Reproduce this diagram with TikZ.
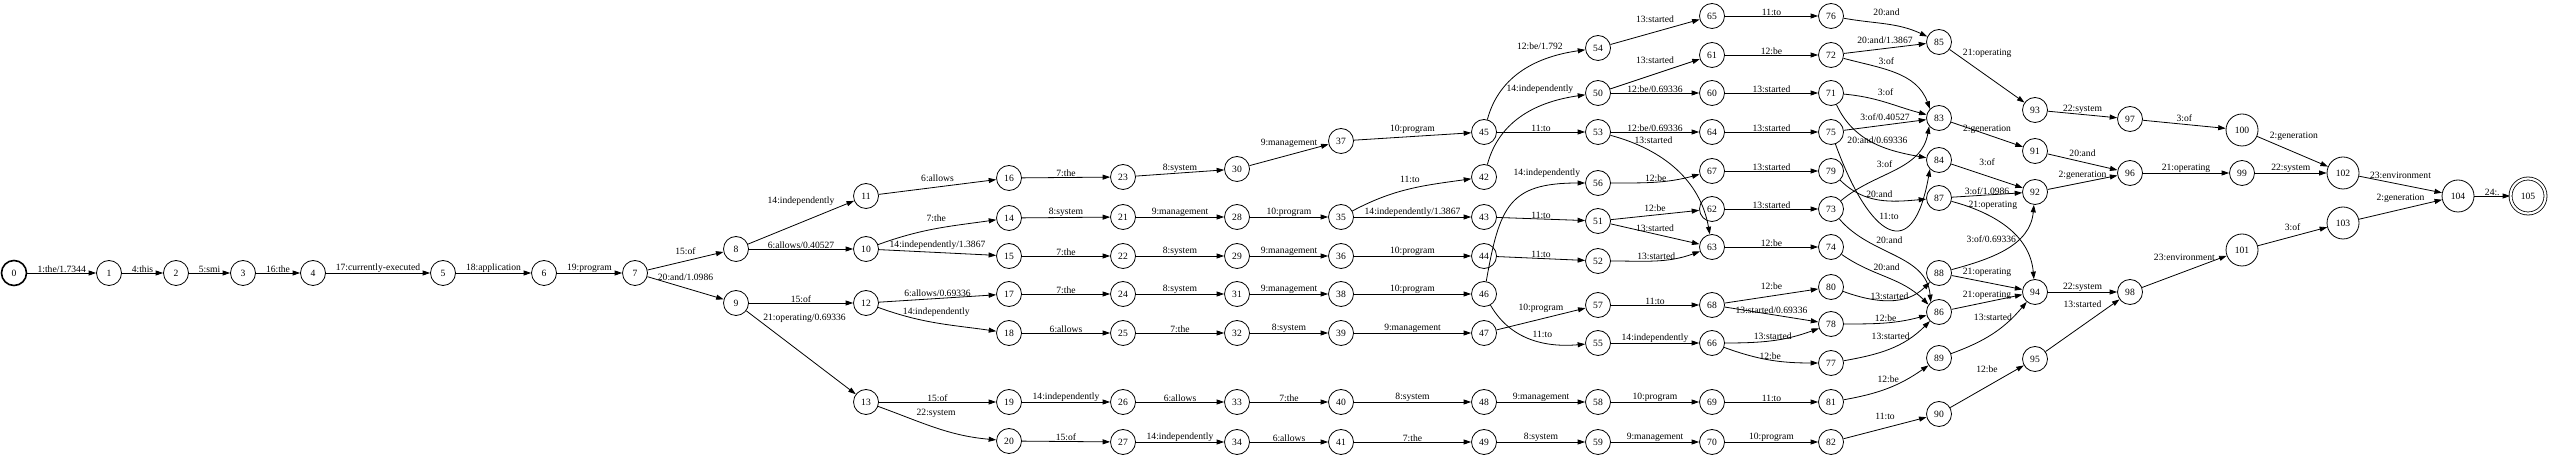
\documentclass[tikz,border=0pt]{standalone}
\usepackage{fontspec}
\setmainfont{Liberation Serif}
\usetikzlibrary{arrows.meta}

\begin{document}
\begin{tikzpicture}[x=1pt, y=1pt, line width=0.8pt, >={Triangle[length=7.5pt,width=5pt]},
        font=\fontsize{9.6}{11}\selectfont,
        state/.style={circle, draw, minimum size=25pt, inner sep=0pt},
        bigstate/.style={state, minimum size=32pt},
        initstate/.style={state, line width=1.6pt},
        finalstate/.style={state, minimum size=35pt, double, double distance=2.2pt}]
        \useasboundingbox (0,0) rectangle (2550,457);

        \node (q0) at (14,184) [initstate] {0};
        \node (q1) at (109,184) [state] {1};
        \node (q2) at (176,184) [state] {2};
        \node (q3) at (243,184) [state] {3};
        \node (q4) at (313,184) [state] {4};
        \node (q5) at (443,184) [state] {5};
        \node (q6) at (544,184) [state] {6};
        \node (q7) at (635,184) [state] {7};

        \node (q8) at (736,208) [state] {8};
        \node (q9) at (736,154) [state] {9};

        \node (q11) at (866,261) [state] {11};
        \node (q10) at (866,208) [state] {10};
        \node (q12) at (866,154) [state] {12};
        \node (q13) at (866,55) [state] {13};

        \node (q16) at (1009,279) [state] {16};
        \node (q14) at (1009,239) [state] {14};
        \node (q15) at (1009,201) [state] {15};
        \node (q17) at (1009,163) [state] {17};
        \node (q18) at (1009,124) [state] {18};
        \node (q19) at (1009,55) [state] {19};
        \node (q20) at (1009,16) [state] {20};

        \node (q23) at (1123,280) [state] {23};
        \node (q21) at (1123,240) [state] {21};
        \node (q22) at (1123,201) [state] {22};
        \node (q24) at (1123,163) [state] {24};
        \node (q25) at (1123,124) [state] {25};
        \node (q26) at (1123,55) [state] {26};
        \node (q27) at (1123,15) [state] {27};

        \node (q30) at (1237,288) [state] {30};
        \node (q28) at (1237,240) [state] {28};
        \node (q29) at (1237,201) [state] {29};
        \node (q31) at (1237,163) [state] {31};
        \node (q32) at (1237,124) [state] {32};
        \node (q33) at (1237,55) [state] {33};
        \node (q34) at (1237,15) [state] {34};

        \node (q37) at (1341,316) [state] {37};
        \node (q35) at (1341,240) [state] {35};
        \node (q36) at (1341,201) [state] {36};
        \node (q38) at (1341,163) [state] {38};
        \node (q39) at (1341,124) [state] {39};
        \node (q40) at (1341,55) [state] {40};
        \node (q41) at (1341,15) [state] {41};

        \node (q45) at (1484,325) [state] {45};
        \node (q42) at (1484,280) [state] {42};
        \node (q43) at (1484,240) [state] {43};
        \node (q44) at (1484,201) [state] {44};
        \node (q46) at (1484,163) [state] {46};
        \node (q47) at (1484,124) [state] {47};
        \node (q48) at (1484,55) [state] {48};
        \node (q49) at (1484,15) [state] {49};

        \node (q54) at (1598,409) [state] {54};
        \node (q50) at (1598,364) [state] {50};
        \node (q53) at (1598,325) [state] {53};
        \node (q56) at (1598,274) [state] {56};
        \node (q51) at (1598,236) [state] {51};
        \node (q52) at (1598,196) [state] {52};
        \node (q57) at (1598,152) [state] {57};
        \node (q55) at (1598,114) [state] {55};
        \node (q58) at (1598,55) [state] {58};
        \node (q59) at (1598,15) [state] {59};

        \node (q65) at (1712,441) [state] {65};
        \node (q61) at (1712,402) [state] {61};
        \node (q60) at (1712,364) [state] {60};
        \node (q64) at (1712,325) [state] {64};
        \node (q67) at (1712,286) [state] {67};
        \node (q62) at (1712,248) [state] {62};
        \node (q63) at (1712,210) [state] {63};
        \node (q68) at (1712,152) [state] {68};
        \node (q66) at (1712,114) [state] {66};
        \node (q69) at (1712,55) [state] {69};
        \node (q70) at (1712,15) [state] {70};

        \node (q76) at (1831,441) [state] {76};
        \node (q72) at (1831,402) [state] {72};
        \node (q71) at (1831,364) [state] {71};
        \node (q75) at (1831,325) [state] {75};
        \node (q79) at (1831,286) [state] {79};
        \node (q73) at (1831,248) [state] {73};
        \node (q74) at (1831,210) [state] {74};
        \node (q80) at (1831,170) [state] {80};
        \node (q78) at (1831,133) [state] {78};
        \node (q77) at (1831,94) [state] {77};
        \node (q81) at (1831,55) [state] {81};
        \node (q82) at (1831,15) [state] {82};

        \node (q85) at (1939,415) [state] {85};
        \node (q83) at (1939,339) [state] {83};
        \node (q84) at (1939,297) [state] {84};
        \node (q87) at (1939,259) [state] {87};
        \node (q88) at (1939,184) [state] {88};
        \node (q86) at (1939,145) [state] {86};
        \node (q89) at (1939,99) [state] {89};
        \node (q90) at (1939,43) [state] {90};

        \node (q93) at (2035,347) [state] {93};
        \node (q91) at (2035,306) [state] {91};
        \node (q92) at (2035,265) [state] {92};
        \node (q94) at (2035,165) [state] {94};
        \node (q95) at (2035,98) [state] {95};

        \node (q97) at (2130,338) [state] {97};
        \node (q96) at (2130,284) [state] {96};
        \node (q98) at (2130,165) [state] {98};

        \node (q100) at (2242,327) [bigstate] {100};
        \node (q99) at (2242,284) [state] {99};
        \node (q101) at (2242,207) [bigstate] {101};

        \node (q102) at (2343,284) [bigstate] {102};
        \node (q103) at (2343,234) [bigstate] {103};

        \node (q104) at (2458,261) [bigstate] {104};
        \node (q105) at (2528,261) [finalstate] {105};

        \path[->, every node/.style={inner sep=0.3pt}]
            (q0) edge node [above] {1:the/1.7344} (q1)
            (q1) edge node [above] {4:this} (q2)
            (q2) edge node [above] {5:smi} (q3)
            (q3) edge node [above] {16:the} (q4)
            (q4) edge node [above] {17:currently-executed} (q5)
            (q5) edge node [above] {18:application} (q6)
            (q6) edge node [above] {19:program} (q7)

            (q7) edge node [above=6pt] {15:of} (q8)
            (q7) edge node [above=7pt] {20:and/1.0986} (q9)
            (q8) edge node [above=16pt] {14:independently} (q11)
            (q8) edge node [above] {6:allows/0.40527} (q10)
            (q9) edge node [above] {15:of} (q12)
            (q9) edge node [pos=0.15, anchor=south west] {21:operating/0.69336} (q13)

            (q10) edge [out=20, in=188] node [above=6pt] {7:the} (q14)
            (q10) edge node [above=2pt] {14:independently/1.3867} (q15)
            (q11) edge node [above=5pt] {6:allows} (q16)
            (q12) edge node [above=1pt] {6:allows/0.69336} (q17)
            (q12) edge [out=-20, in=172] node [above=6pt] {14:independently} (q18)
            (q13) edge node [above] {15:of} (q19)
            (q13) edge [out=-20, in=175] node [above=9pt] {22:system} (q20)

            (q16) edge node [above] {7:the} (q23)
            (q14) edge node [above] {8:system} (q21)
            (q15) edge node [above] {7:the} (q22)
            (q17) edge node [above] {7:the} (q24)
            (q18) edge node [above] {6:allows} (q25)
            (q19) edge node [above] {14:independently} (q26)
            (q20) edge node [above] {15:of} (q27)

            (q23) edge node [above] {8:system} (q30)
            (q21) edge node [above] {9:management} (q28)
            (q22) edge node [above] {8:system} (q29)
            (q24) edge node [above] {8:system} (q31)
            (q25) edge node [above] {7:the} (q32)
            (q26) edge node [above] {6:allows} (q33)
            (q27) edge node [above] {14:independently} (q34)

            (q30) edge node [above=7pt] {9:management} (q37)
            (q28) edge node [above] {10:program} (q35)
            (q29) edge node [above] {9:management} (q36)
            (q31) edge node [above] {9:management} (q38)
            (q32) edge node [above] {8:system} (q39)
            (q33) edge node [above] {7:the} (q40)
            (q34) edge node [above] {6:allows} (q41)

            (q37) edge node [above=2pt] {10:program} (q45)
            (q35) edge [out=28, in=188] node [above=6pt] {11:to} (q42)
            (q35) edge node [above] {14:independently/1.3867} (q43)
            (q36) edge node [above] {10:program} (q44)
            (q38) edge node [above] {10:program} (q46)
            (q39) edge node [above] {9:management} (q47)
            (q40) edge node [above] {8:system} (q48)
            (q41) edge node [above] {7:the} (q49)

            (q45) edge [out=75, in=188] node [pos=0.65, above=11pt] {12:be/1.792} (q54)
            (q45) edge node [above] {11:to} (q53)
            (q42) edge [out=75, in=188] node [pos=0.65, above=12pt] {14:independently} (q50)
            (q43) edge node [above] {11:to} (q51)
            (q44) edge node [above] {11:to} (q52)
            (q46) edge [out=80, in=180, looseness=1.4] node [pos=0.8, above=8pt] {14:independently} (q56)
            (q46) edge [out=-60, in=185] node [pos=0.62, above=4pt] {11:to} (q55)
            (q47) edge node [above=6pt] {10:program} (q57)
            (q48) edge node [above] {9:management} (q58)
            (q49) edge node [above] {8:system} (q59)

            (q54) edge node [above=9pt] {13:started} (q65)
            (q50) edge node [above=10pt] {13:started} (q61)
            (q50) edge node [above] {12:be/0.69336} (q60)
            (q53) edge node [above] {12:be/0.69336} (q64)
            (q53) edge [out=-15, in=100] node [pos=0.3, above=8pt] {13:started} (q63)
            (q56) edge [out=0, in=195] node [above] {12:be} (q67)
            (q51) edge node [above=3pt] {12:be} (q62)
            (q51) edge node [above=2pt] {13:started} (q63)
            (q52) edge [out=0, in=200] node [above] {13:started} (q63)
            (q57) edge node [above] {11:to} (q68)
            (q55) edge node [above] {14:independently} (q66)
            (q58) edge node [above] {10:program} (q69)
            (q59) edge node [above] {9:management} (q70)

            (q65) edge node [above] {11:to} (q76)
            (q61) edge node [above] {12:be} (q72)
            (q60) edge node [above] {13:started} (q71)
            (q64) edge node [above] {13:started} (q75)
            (q67) edge node [above] {13:started} (q79)
            (q62) edge node [above] {13:started} (q73)
            (q63) edge node [above] {12:be} (q74)
            (q68) edge node [above=6pt] {12:be} (q80)
            (q68) edge node [above] {13:started/0.69336} (q78)
            (q66) edge [out=0, in=200] node [above] {13:started} (q78)
            (q66) edge [out=-20, in=180] node [above] {12:be} (q77)
            (q69) edge node [above] {11:to} (q81)
            (q70) edge node [above] {10:program} (q82)

            (q76) edge [out=-10, in=155] node [above=8pt] {20:and} (q85)
            (q72) edge node [above=4pt] {20:and/1.3867} (q85)
            (q72) edge [out=-15, in=110] node [pos=0.4, above=5pt] {3:of} (q83.135)
            (q71) edge [out=-5, in=165] node [above=6pt] {3:of} (q83)
            (q71) edge [out=-65, in=170] node [pos=0.55, above] {20:and/0.69336} (q84)
            (q75) edge node [above=4pt] {3:of/0.40527} (q83)
            (q75) edge [out=-70, in=-100, looseness=2.6] node [above=8pt] {11:to} (q84.225)
            (q79) edge [out=-45, in=185] node [above=2pt] {20:and} (q87)
            (q73) edge [out=40, in=-100] node [pos=0.4, above=6pt] {3:of} (q83.220)
            (q73) edge [out=-50, in=95] node [pos=0.45, above=9pt] {20:and} (q86.130)
            (q74) edge [out=-35, in=135] node [above=6pt] {20:and} (q86.145)
            (q80) edge [out=-20, in=225] node [above] {13:started} (q88)
            (q78) edge [out=0, in=195] node [above] {12:be} (q86)
            (q77) edge [out=10, in=225] node [above=8pt] {13:started} (q86)
            (q81) edge [out=10, in=215] node [above=5pt] {12:be} (q89)
            (q82) edge node [above=8pt] {11:to} (q90)

            (q85) edge node [pos=0.17, anchor=south west] {21:operating} (q93)
            (q83) edge node [above] {2:generation} (q91)
            (q84) edge node [above=10pt] {3:of} (q92)
            (q87) edge node [above] {3:of/1.0986} (q92)
            (q87) edge [out=-15, in=95] node [pos=0.35, above=8pt] {21:operating} (q94)
            (q88) edge [out=15, in=-95] node [pos=0.35, above=13pt] {3:of/0.69336} (q92)
            (q88) edge node [above=5pt] {21:operating} (q94)
            (q86) edge node [above=2pt] {21:operating} (q94)
            (q89) edge [out=20, in=230] node [above=12pt] {13:started} (q94)
            (q90) edge node [above=13pt] {12:be} (q95)

            (q93) edge node [above] {22:system} (q97)
            (q91) edge node [above=5pt] {20:and} (q96)
            (q92) edge node [above=2pt] {2:generation} (q96)
            (q94) edge node [above] {22:system} (q98)
            (q95) edge node [above=17pt] {13:started} (q98)

            (q97) edge node [above=2pt] {3:of} (q100)
            (q96) edge node [above] {21:operating} (q99)
            (q98) edge node [above=10pt] {23:environment} (q101)
            (q100) edge node [pos=0.17, anchor=south west] {2:generation} (q102)
            (q99) edge node [above] {22:system} (q102)
            (q101) edge node [above=5pt] {3:of} (q103)
            (q102) edge node [above=5pt] {23:environment} (q104)
            (q103) edge node [above=6pt] {2:generation} (q104)
            (q104) edge node [above] {24:.} (q105)
        ;
    \end{tikzpicture}
\end{document}
